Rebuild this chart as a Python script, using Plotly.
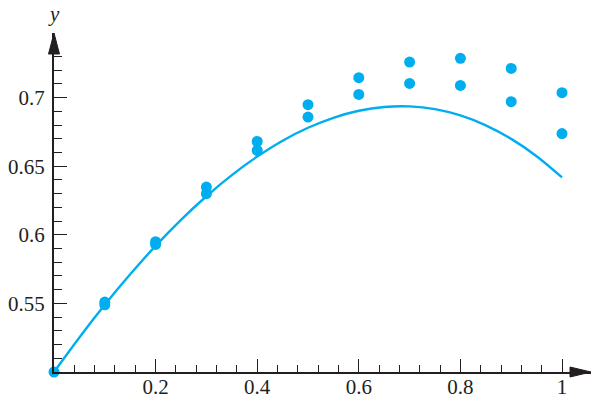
import plotly.graph_objects as go

# Observed data points
obs_x = [0.0, 0.1, 0.1, 0.2, 0.2, 0.3, 0.3, 0.4, 0.4, 0.5, 0.5, 0.6, 0.6,
         0.7, 0.7, 0.8, 0.8, 0.9, 0.9, 1.0, 1.0]
obs_y = [0.500, 0.549, 0.551, 0.595, 0.593, 0.6348, 0.630, 0.668, 0.6615,
         0.6948, 0.6858, 0.7145, 0.7023, 0.7259, 0.7103, 0.7286, 0.7089,
         0.7213, 0.697, 0.7036, 0.6738]

# Model curve
curve_x = [0.0, 0.05, 0.1, 0.15, 0.2, 0.25, 0.3, 0.35, 0.4, 0.45, 0.5, 0.55,
           0.6, 0.65, 0.7, 0.75, 0.8, 0.85, 0.9, 0.95, 1.0]
curve_y = [0.500, 0.5252, 0.5490, 0.5712, 0.5919, 0.6109, 0.6281, 0.6435,
           0.6570, 0.6686, 0.6780, 0.6853, 0.6904, 0.6932, 0.6936, 0.6916,
           0.6870, 0.6798, 0.6699, 0.6573, 0.6418]

x_major = [0.2, 0.4, 0.6, 0.8, 1.0]
x_major_text = ["0.2", "0.4", "0.6", "0.8", "1"]
x_minor = [0.04, 0.08, 0.12, 0.16, 0.24, 0.28, 0.32, 0.36, 0.44, 0.48, 0.52,
           0.56, 0.64, 0.68, 0.72, 0.76, 0.84, 0.88, 0.92, 0.96]
y_major = [0.55, 0.6, 0.65, 0.7]
y_major_text = ["0.55", "0.6", "0.65", "0.7"]
y_minor = [0.51, 0.52, 0.53, 0.54, 0.56, 0.57, 0.58, 0.59, 0.61, 0.62, 0.63,
           0.64, 0.66, 0.67, 0.68, 0.69, 0.71, 0.72, 0.73]

CYAN = "#00AEEF"
INK = "#231f20"
FONT = "Liberation Serif"

W, H = 604, 396
OFF = 8  # page body margin
ML, MR, MT, MB = 54 - OFF, 13 + OFF, 33 - OFF, 24 + OFF
XPX = 508.0   # pixels per x unit
YPX = 1372.0  # pixels per y unit
x_max = (W - ML - MR) / XPX
y_max = 0.5 + (H - MT - MB) / YPX

fig = go.Figure()
fig.add_trace(go.Scatter(x=curve_x, y=curve_y, mode="lines",
                         line=dict(color=CYAN, width=2.4, shape="spline"),
                         cliponaxis=False, hoverinfo="skip"))
fig.add_trace(go.Scatter(x=obs_x, y=obs_y, mode="markers",
                         marker=dict(color=CYAN, size=11, line=dict(width=0)),
                         cliponaxis=False))

axis_common = dict(showgrid=False, zeroline=False, showline=True,
                   linecolor=INK, linewidth=2, ticks="inside",
                   tickcolor=INK, tickwidth=1.3, ticklen=13, automargin=False,
                   tickfont=dict(family=FONT, size=21, color=INK))

fig.update_xaxes(range=[0, x_max], tickmode="array", tickvals=x_major,
                 ticktext=x_major_text, ticklabelstandoff=-5,
                 minor=dict(tickmode="array", tickvals=x_minor, ticks="inside",
                            ticklen=7, tickcolor=INK, tickwidth=1.3),
                 **axis_common)
fig.update_yaxes(range=[0.5, y_max], tickmode="array", tickvals=y_major,
                 ticktext=y_major_text, ticklabelstandoff=3,
                 minor=dict(tickmode="array", tickvals=y_minor, ticks="inside",
                            ticklen=8, tickcolor=INK, tickwidth=1.3),
                 **axis_common)

# arrowheads
fig.add_shape(type="path", xref="paper", yref="paper", xsizemode="pixel",
              ysizemode="pixel", xanchor=1, yanchor=0,
              path="M -21 5 L 0 0 L -21 -5 Z", fillcolor=INK,
              line=dict(color=INK, width=1))
fig.add_shape(type="path", xref="paper", yref="paper", xsizemode="pixel",
              ysizemode="pixel", xanchor=0, yanchor=1,
              path="M -5.5 -21 L 0 0 L 5.5 -21 Z", fillcolor=INK,
              line=dict(color=INK, width=1))

fig.add_annotation(text="<i>y</i>", xref="paper", yref="paper", x=0, y=1,
                   xanchor="center", yanchor="bottom", yshift=5, showarrow=False,
                   font=dict(family=FONT, size=21, color=INK))
fig.add_annotation(text="<i>x</i>", xref="paper", yref="paper", x=1, y=0,
                   xanchor="left", yanchor="middle", xshift=5, showarrow=False,
                   font=dict(family=FONT, size=21, color=INK))

fig.update_layout(width=W, height=H, showlegend=False,
                  margin=dict(l=ML, r=MR, t=MT, b=MB, pad=0),
                  plot_bgcolor="white", paper_bgcolor="white")

fig.write_html("out.html")
